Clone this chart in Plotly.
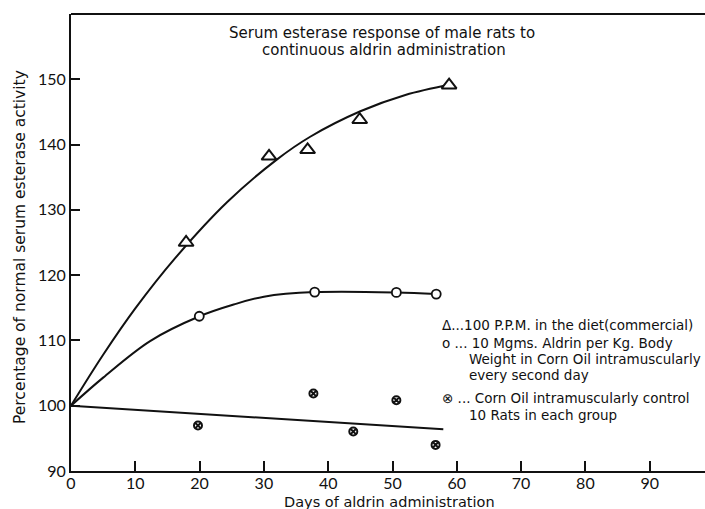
import plotly.graph_objects as go

# ---- data ----
# Observed points
tri_days = [17.9, 30.8, 36.8, 44.9, 58.8]
tri_vals = [125.0, 138.2, 139.2, 143.8, 149.1]

circ_days = [19.95, 37.9, 50.6, 56.8]
circ_vals = [113.7, 117.4, 117.35, 117.1]

ctrl_days = [19.75, 37.7, 43.9, 50.6, 56.7]
ctrl_vals = [96.96, 101.87, 96.04, 100.85, 94.0]

# Hand-drawn fitted curves
tri_curve_days = [0, 5, 10, 16.2, 24.3, 32, 37.2, 45, 52, 59]
tri_curve_vals = [100, 107.8, 114.9, 122.6, 131.2, 137.7, 141.2, 145.1, 147.6, 149.2]

circ_curve_days = [0, 5, 12.3, 20, 25.3, 30, 37.9, 50.6, 56.8]
circ_curve_vals = [100, 104.3, 109.9, 113.7, 115.5, 116.7, 117.4, 117.35, 117.1]

ctrl_line_days = [0, 57.9]
ctrl_line_vals = [100, 96.4]

x_ticks = [0, 10, 20, 30, 40, 50, 60, 70, 80, 90]
y_ticks = [90, 100, 110, 120, 130, 140, 150]

title_lines = ["Serum esterase response of male rats to",
               "continuous aldrin administration"]
legend_lines = [
    "\u0394...100 P.P.M. in the diet(commercial)",
    "o ... 10 Mgms. Aldrin per Kg. Body",
    "Weight in Corn Oil intramuscularly",
    "every second day",
    "\u2297 ... Corn Oil intramuscularly control",
    "10 Rats in each group",
]
x_title = "Days of aldrin administration"
y_title = "Percentage of normal serum esterase activity"

# ---- layout geometry ----
W, H = 705, 509
ML, MR, MT, MB = 71, 0, 14, 38
PW, PH = W - ML - MR, H - MT - MB


def px(xp):
    return (xp - ML) / PW


def py(yp):
    return (H - MB - yp) / PH


FONT = "'DejaVu Sans', sans-serif"
TICKFONT = "Lato, sans-serif"
INK = "#111111"

fig = go.Figure()

line_style = dict(color=INK, width=2, shape="spline", smoothing=1.0)
fig.add_trace(go.Scatter(x=tri_curve_days, y=tri_curve_vals, mode="lines",
                         line=line_style, showlegend=False, hoverinfo="skip"))
fig.add_trace(go.Scatter(x=circ_curve_days, y=circ_curve_vals, mode="lines",
                         line=line_style, showlegend=False, hoverinfo="skip"))
fig.add_trace(go.Scatter(x=ctrl_line_days, y=ctrl_line_vals, mode="lines",
                         line=dict(color=INK, width=2), showlegend=False,
                         hoverinfo="skip"))

fig.add_trace(go.Scatter(x=tri_days, y=tri_vals, mode="markers",
                         marker=dict(symbol="triangle-up", size=13, color="white",
                                     line=dict(color=INK, width=2)),
                         showlegend=False))
fig.add_trace(go.Scatter(x=circ_days, y=circ_vals, mode="markers",
                         marker=dict(symbol="circle", size=9, color="white",
                                     line=dict(color=INK, width=1.8)),
                         showlegend=False))
fig.add_trace(go.Scatter(x=ctrl_days, y=ctrl_vals, mode="markers",
                         marker=dict(symbol="circle-x", size=8, color="white",
                                     line=dict(color=INK, width=2)),
                         showlegend=False))

annotations = []
annotations.append(dict(x=px(382), y=py(33), xref="paper", yref="paper",
                        text=title_lines[0], showarrow=False, xanchor="center",
                        yanchor="middle", font=dict(size=15, color=INK, family=FONT)))
annotations.append(dict(x=px(384), y=py(50), xref="paper", yref="paper",
                        text=title_lines[1], showarrow=False, xanchor="center",
                        yanchor="middle", font=dict(size=15, color=INK, family=FONT)))

leg_pos = [(440, 325), (440, 343), (467, 359), (467, 375), (440, 398), (467, 415)]
for (lx, ly), t in zip(leg_pos, legend_lines):
    annotations.append(dict(x=px(lx), y=py(ly), xref="paper", yref="paper",
                            text=t, showarrow=False, xanchor="left",
                            yanchor="middle",
                            font=dict(size=13.5, color=INK, family=FONT)))

annotations.append(dict(x=px(389), y=py(502), xref="paper", yref="paper",
                        text=x_title, showarrow=False, xanchor="center",
                        yanchor="middle", font=dict(size=14.5, color=INK, family=FONT)))
annotations.append(dict(x=px(20), y=py(247), xref="paper", yref="paper",
                        text=y_title, showarrow=False, xanchor="center",
                        yanchor="middle", textangle=-90,
                        font=dict(size=15.5, color=INK, family=FONT)))

fig.update_layout(
    width=W, height=H,
    margin=dict(l=ML, r=MR, t=MT, b=MB),
    paper_bgcolor="white", plot_bgcolor="white",
    font=dict(family=FONT, color=INK),
    annotations=annotations,
    shapes=[dict(type="line", xref="paper", yref="paper", x0=0, x1=1, y0=1, y1=1,
                 line=dict(color=INK, width=2))],
    xaxis=dict(range=[0, 98.6], tickvals=x_ticks, ticktext=[str(v) for v in x_ticks],
               showgrid=False, zeroline=False, showline=True, linecolor=INK,
               linewidth=2, ticks="inside", ticklen=10, tickwidth=1.6,
               tickcolor=INK, ticklabelstandoff=-3,
               tickfont=dict(size=16, color=INK, family=TICKFONT)),
    yaxis=dict(range=[90, 160], tickvals=y_ticks, ticktext=[str(v) for v in y_ticks],
               showgrid=False, zeroline=False, showline=True, linecolor=INK,
               linewidth=2, ticks="inside", ticklen=9, tickwidth=1.6,
               tickcolor=INK, tickfont=dict(size=16, color=INK, family=TICKFONT)),
)

fig.write_html("out.html", config={"displayModeBar": False},
               post_script="document.body.style.margin='0';document.body.style.padding='0';")
